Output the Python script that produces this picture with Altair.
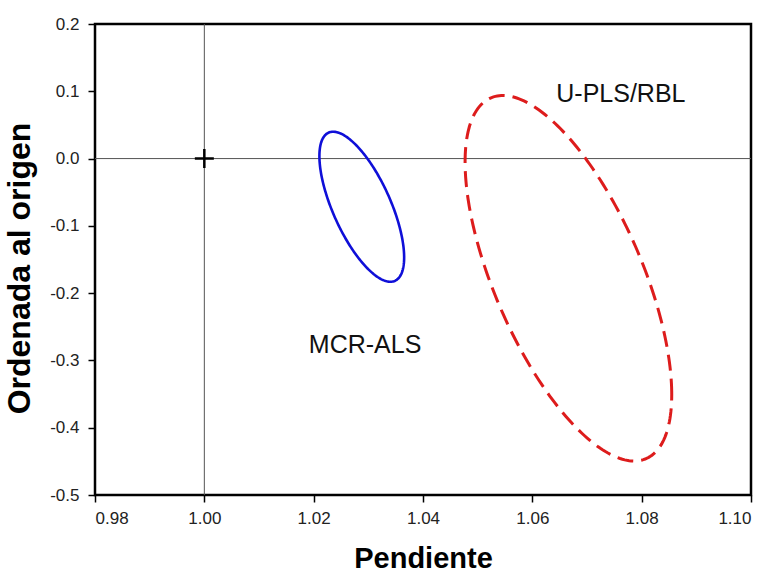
import numpy as np
import pandas as pd
import altair as alt

# Joint confidence regions (slope / intercept) for each calibration method
methods = ["MCR-ALS", "U-PLS/RBL"]
center_slope = [1.0288, 1.0666]
center_intercept = [-0.0716, -0.1779]
half_range_slope = [0.00775, 0.0189]
half_range_intercept = [0.1115, 0.2716]
correlation = [-0.675, -0.636]

# Ideal point (slope = 1, intercept = 0)
ideal_slope = [1.00]
ideal_intercept = [0.0]

# Text labels placed next to each region
label_text = ["U-PLS/RBL", "MCR-ALS"]
label_slope = [1.0762, 1.0294]
label_intercept = [0.084, -0.289]

x_ticks = [0.98, 1.00, 1.02, 1.04, 1.06, 1.08, 1.10]
y_ticks = [-0.5, -0.4, -0.3, -0.2, -0.1, 0.0, 0.1, 0.2]

FONT = "Liberation Sans"

# Outline of each ellipse from its centre, half-ranges and correlation
t = np.linspace(0, 2 * np.pi, 241)
rows = []
for m, cx, cy, a, b, r in zip(methods, center_slope, center_intercept,
                              half_range_slope, half_range_intercept, correlation):
    phi = np.arccos(r)
    xs = cx + a * np.cos(t)
    ys = cy + b * np.cos(t - phi)
    for i, (xv, yv) in enumerate(zip(xs, ys)):
        rows.append({"method": m, "i": i, "slope": xv, "intercept": yv})
ellipses = pd.DataFrame(rows)

xscale = alt.Scale(domain=[0.98, 1.10], nice=False, zero=False)
yscale = alt.Scale(domain=[-0.5, 0.2], nice=False, zero=False)

# plain hyphen for negative tick labels
hyphen = "replace(datum.label, '\u2212', '-')"

x_axis = alt.Axis(values=x_ticks, format=".2f", title="Pendiente",
                  titleBaseline="alphabetic", titleY=72, labelExpr=hyphen,
                  labelPadding=8, titleFontSize=29)
y_axis = alt.Axis(values=y_ticks, format=".1f", title="Ordenada al origen",
                  titleBaseline="alphabetic", titleX=-66, titleY=244,
                  labelExpr=hyphen, labelPadding=9, titleFontSize=32)

X = alt.X("slope:Q", scale=xscale, axis=x_axis)
Y = alt.Y("intercept:Q", scale=yscale, axis=y_axis)

vline = alt.Chart(pd.DataFrame({"slope": ideal_slope})).mark_rule(
    color="#555555", strokeWidth=1
).encode(x=alt.X("slope:Q", scale=xscale))

hline = alt.Chart(pd.DataFrame({"intercept": ideal_intercept})).mark_rule(
    color="#555555", strokeWidth=1
).encode(y=alt.Y("intercept:Q", scale=yscale))

ideal = alt.Chart(pd.DataFrame({"slope": ideal_slope, "intercept": ideal_intercept})).mark_point(
    shape="M-1,0L1,0M0,-1L0,1", size=361, stroke="black", strokeWidth=2.5, filled=False, opacity=1
).encode(x=X, y=Y)

blue = alt.Chart(ellipses).transform_filter(
    alt.datum.method == "MCR-ALS"
).mark_line(color="#0f0fd8", strokeWidth=2.6).encode(x=X, y=Y, order="i:Q")

red = alt.Chart(ellipses).transform_filter(
    alt.datum.method == "U-PLS/RBL"
).mark_line(color="#dd1c1c", strokeWidth=3, strokeDash=[16, 8]).encode(x=X, y=Y, order="i:Q")

labels = alt.Chart(pd.DataFrame({"text": label_text, "slope": label_slope,
                                 "intercept": label_intercept})).mark_text(
    font=FONT, fontSize=25, color="#111111", align="center", baseline="alphabetic"
).encode(x=X, y=Y, text="text:N")

chart = alt.layer(vline, hline, blue, red, ideal, labels).properties(
    width=656, height=471,
    autosize=alt.AutoSizeParams(type="none"),
    padding={"left": 95, "top": 24, "right": 19, "bottom": 78},
    background="white",
).configure_view(
    stroke="black", strokeWidth=2.5
).configure_axis(
    domain=False, grid=False,
    tickColor="black", tickWidth=1.5, tickSize=7,
    labelFont=FONT, labelFontSize=17, labelColor="#222222",
    titleFont=FONT, titleFontWeight="bold", titleColor="black",
)

chart.save("out.html", embed_options={"renderer": "svg", "actions": False})
